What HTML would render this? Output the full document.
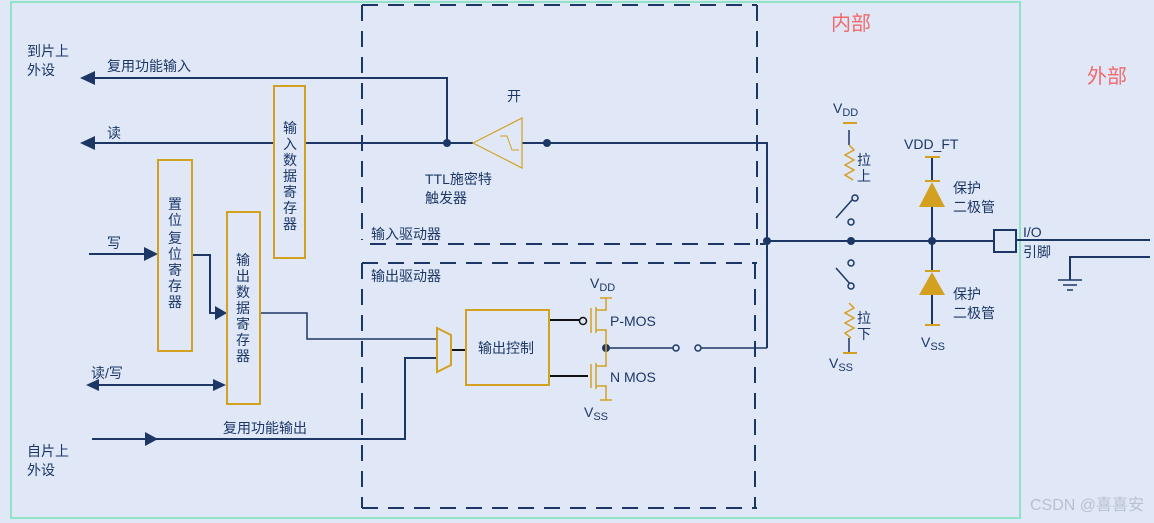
<!DOCTYPE html>
<html><head><meta charset="utf-8"><style>
html,body{margin:0;padding:0;background:#e0e8f8;}
svg{display:block;}
text{font-family:"Liberation Sans","Noto Sans CJK SC",sans-serif;fill:#1c3766;font-size:14px;}
</style></head><body>
<svg width="1154" height="523" viewBox="0 0 1154 523" xmlns="http://www.w3.org/2000/svg">
<rect width="1154" height="523" fill="#e0e8f8"/>
<rect x="11" y="2" width="1009" height="516" fill="none" stroke="#8ee4c4" stroke-width="2"/>
<g fill="none" stroke="#1c3766" stroke-width="2" stroke-dasharray="16,10">
<path d="M362 5 H757 M362 5 V240 M757 5 V245 M370 244 H765"/>
<path d="M362 263 H757 M362 263 V508 M755 263 V508 M362 508 H757"/>
</g>
<g fill="none" stroke="#1c3766" stroke-width="2">
<path d="M92 78 H447 V143"/>
<path d="M92 143 H274 M305 143 H473 M522 143 H767 V348"/>
<path d="M767 241 H994 M1016 240 H1150"/>
<path d="M1150 257 H1070 V280"/>
<path d="M1058 280 H1082 M1063 285 H1077 M1067 290 H1073" stroke-width="1.5"/>
<path d="M89 254 H146"/>
<path d="M192 255 H210 V313 H217"/>
<path d="M98 385 H216"/>
<path d="M92 439 H405 V358 H437"/>
<path d="M260 313 H307 V339 H437" stroke-width="1.5"/>
<path d="M451 350 H466" stroke="#111"/>
<path d="M549 320 H580 M549 376 H588" stroke="#111"/>
<path d="M606 348 H676 M698 348 H767" stroke-width="1.5"/>
<path d="M849 130 V145 M849 338 V353" stroke-width="1.5"/>
<path d="M932 157 V181 M932 207 V271 M932 295 V325"/>
</g>
<g fill="#1c3766">
<polygon points="80,78 95,71 95,85"/>
<polygon points="80,143 95,136 95,150"/>
<polygon points="158,254 144,247 144,261"/>
<polygon points="227,313 215,306 215,320"/>
<polygon points="226,385 213,379 213,391"/>
<polygon points="86,385 99,379 99,391"/>
<polygon points="158,439 145,432 145,446"/>
<circle cx="447" cy="143" r="4"/><circle cx="547" cy="143" r="4"/>
<circle cx="767" cy="241" r="4"/><circle cx="851" cy="241" r="4"/><circle cx="932" cy="241" r="4"/>
<circle cx="606" cy="348" r="4"/>
</g>
<rect x="994" y="230" width="22" height="22" fill="none" stroke="#1c3766" stroke-width="2"/>
<g fill="none" stroke="#d4a020" stroke-width="2">
<rect x="274" y="86" width="31" height="172"/>
<rect x="158" y="160" width="34" height="191"/>
<rect x="227" y="212" width="33" height="192"/>
<rect x="466" y="310" width="83" height="75"/>
<path d="M437 328 L451 335 V365 L437 372 Z"/>
<path d="M473 143 L522 118 V168 Z" stroke-width="1.2"/>
<path d="M500 136 H507 L512 150 H519" stroke-width="1"/>
<path d="M591 308 V333 M596 307 V333 M596 310 H606 V298 M600 298 H612 M596 330 H606 V348" stroke-width="1.5"/>
<path d="M591 364 V388 M596 363 V389 M596 366 H606 V348 M596 386 H606 V400 M600 400 H612" stroke-width="1.5"/>
<path d="M843 123 H857 M843 353 H857 M925 157 H940 M925 325 H940 M925 181 H940 M925 271 H940" stroke-width="2"/>
<path d="M849 145 L854 150 L845 155 L854 160 L845 165 L854 170 L845 175 L853 180" stroke-width="1.5"/>
<path d="M849 303 L854 308 L845 313 L854 318 L845 323 L854 328 L845 333 L851 338" stroke-width="1.5"/>
</g>
<g fill="none" stroke="#1c3766" stroke-width="1.5">
<circle cx="583" cy="321" r="3.5" fill="#e0e8f8" stroke="#111"/>
<circle cx="676" cy="348" r="3" fill="#e0e8f8"/><circle cx="698" cy="348" r="3" fill="#e0e8f8"/>
<path d="M836 218 L852 200"/>
<circle cx="855" cy="198" r="3" fill="#e0e8f8"/><circle cx="851" cy="222" r="3" fill="#e0e8f8"/>
<path d="M836 268 L851 285"/>
<circle cx="851" cy="263" r="3" fill="#e0e8f8"/><circle cx="851" cy="286" r="3" fill="#e0e8f8"/>
</g>
<g fill="#d4a020">
<polygon points="932,182 919,207 945,207"/>
<polygon points="932,272 919,295 945,295"/>
</g>
<text x="831" y="30" style="fill:#f06a6a;font-size:20px">内部</text>
<text x="1087" y="83" style="fill:#f06a6a;font-size:20px">外部</text>
<text x="27" y="56">到片上</text><text x="27" y="75">外设</text>
<text x="107" y="71">复用功能输入</text>
<text x="107" y="138">读</text>
<text x="507" y="101" font-size="13">开</text>
<text x="425" y="184">TTL施密特</text><text x="425" y="203">触发器</text>
<text x="371" y="239">输入驱动器</text>
<text x="371" y="281">输出驱动器</text>
<text x="107" y="248" font-size="13">写</text>
<text x="91" y="378">读/写</text>
<text x="223" y="433">复用功能输出</text>
<text x="27" y="456">自片上</text><text x="27" y="475">外设</text>
<text x="478" y="353">输出控制</text>
<text x="610" y="326">P-MOS</text>
<text x="610" y="382">N MOS</text>
<text x="590" y="288">V<tspan font-size="11" dy="3">DD</tspan></text>
<text x="584" y="417">V<tspan font-size="11" dy="3">SS</tspan></text>
<text x="833" y="113">V<tspan font-size="11" dy="3">DD</tspan></text>
<text x="829" y="368">V<tspan font-size="11" dy="3">SS</tspan></text>
<text x="921" y="347">V<tspan font-size="11" dy="3">SS</tspan></text>
<text x="904" y="149">VDD_FT</text>
<text x="857" y="165">拉</text><text x="857" y="181">上</text>
<text x="857" y="323">拉</text><text x="857" y="339">下</text>
<text x="953" y="193">保护</text><text x="953" y="212">二极管</text>
<text x="953" y="299">保护</text><text x="953" y="318">二极管</text>
<text x="1023" y="237">I/O</text><text x="1023" y="257">引脚</text>
<g font-size="14">
<text x="283" y="133">输</text><text x="283" y="149">入</text><text x="283" y="165">数</text><text x="283" y="181">据</text><text x="283" y="197">寄</text><text x="283" y="213">存</text><text x="283" y="229">器</text>
<text x="168" y="209">置</text><text x="168" y="225">位</text><text x="168" y="243">复</text><text x="168" y="259">位</text><text x="168" y="275">寄</text><text x="168" y="291">存</text><text x="168" y="307">器</text>
<text x="236" y="265">输</text><text x="236" y="281">出</text><text x="236" y="297">数</text><text x="236" y="313">据</text><text x="236" y="329">寄</text><text x="236" y="345">存</text><text x="236" y="361">器</text>
</g>
<text x="1030" y="510" style="fill:#b8c0cc;font-size:16px">CSDN @喜喜安</text>
</svg>
</body></html>
